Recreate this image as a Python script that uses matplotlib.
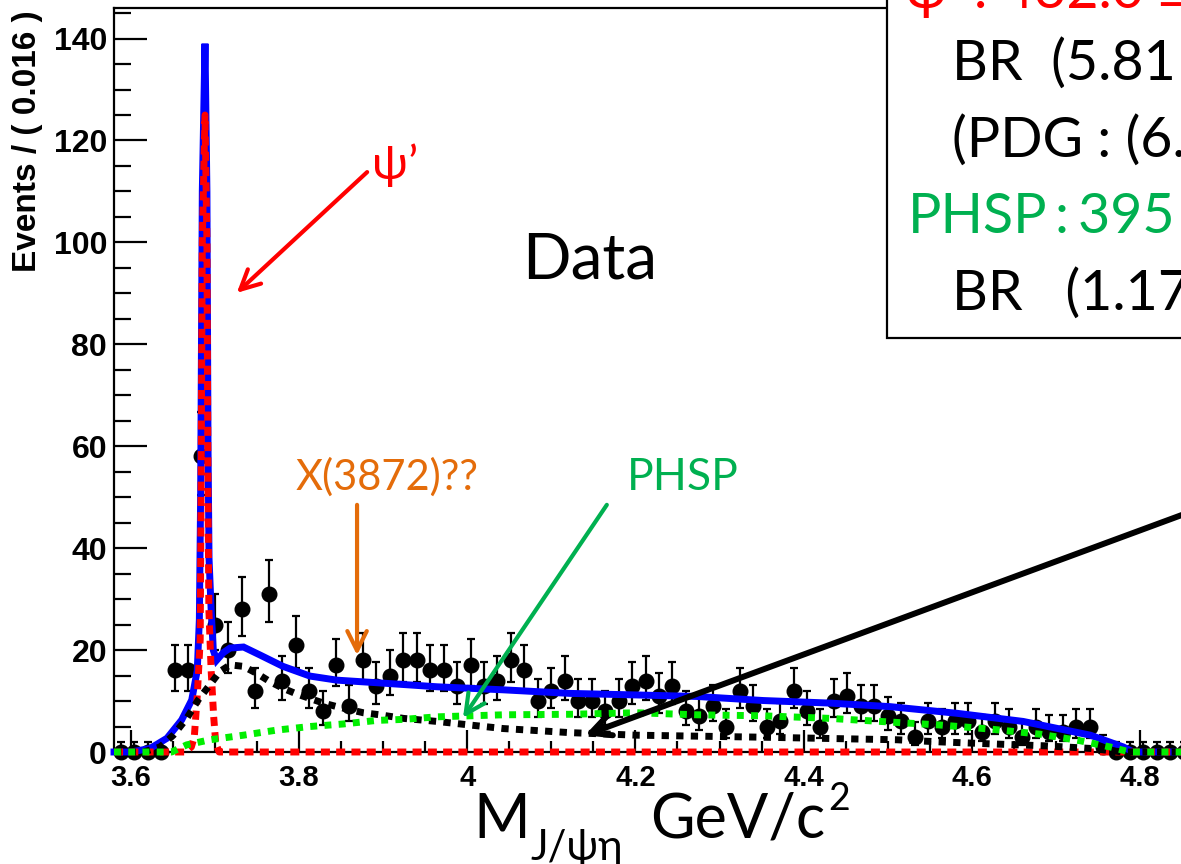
import matplotlib
matplotlib.use("Agg")
import matplotlib.pyplot as plt
from matplotlib.patches import Rectangle
from matplotlib.ticker import MultipleLocator
import numpy as np

plt.rcParams['font.family'] = ['Liberation Sans', 'DejaVu Sans']

# J/psi eta invariant mass, 0.016 GeV/c^2 bins starting at 3.58
mass_lo = 3.58
bin_width = 0.016
events = [0, 0, 0, 0, 16, 16, 58, 25, 20, 28, 12, 31, 14, 21, 12, 8, 17, 9, 18, 13,
          15, 18, 18, 16, 16, 13, 17, 13, 14, 18, 16, 10, 12, 14, 10, 10, 8, 10, 13, 14,
          11, 13, 8, 7, 9, 5, 12, 9, 5, 6, 12, 8, 5, 10, 11, 9, 9, 7, 6, 3,
          6, 5, 6, 6, 4, 6, 5, 3, 5, 4, 4, 5, 5, 1, 0, 0, 0, 0, 0, 0, 0, 0, 0]

# fit projections (total, psi', background, phase space)
total_x = [3.580, 3.600, 3.623, 3.643, 3.6605, 3.6724, 3.679, 3.6815, 3.6830, 3.6850,
           3.6882, 3.6905, 3.6918, 3.6930, 3.6955, 3.698, 3.702, 3.710, 3.718, 3.734,
           3.754, 3.781, 3.813, 3.845, 3.892, 3.964, 4.043, 4.122, 4.200, 4.273,
           4.352, 4.431, 4.503, 4.582, 4.661, 4.741, 4.780, 4.792, 4.930]
total_y = [0, 0, 0.7, 2.7, 6.3, 10.2, 16, 26, 50, 110,
           139, 110, 60, 38, 28, 20, 18, 19.5, 20.4, 20.6,
           19, 16.8, 14.9, 14.1, 13.6, 12.8, 12.2, 11.5, 11.2, 10.9,
           10.1, 9.6, 8.9, 7.6, 6.0, 3.3, 1.0, 0, 0]

psi2s_x = [3.580, 3.665, 3.672, 3.6755, 3.679, 3.6825, 3.6835, 3.6850, 3.6882, 3.6905,
           3.6918, 3.6928, 3.6955, 3.6985, 3.701, 3.705, 4.930]
psi2s_y = [0, 0, 1, 3, 11, 22, 50, 100, 125, 100,
           50, 28, 16, 7, 1.7, 0, 0]

bkg_x = [3.580, 3.615, 3.635, 3.6505, 3.6665, 3.680, 3.694, 3.706, 3.718, 3.734,
         3.750, 3.7655, 3.781, 3.797, 3.813, 3.829, 3.845, 3.8765, 3.896, 3.924,
         3.964, 4.003, 4.043, 4.083, 4.122, 4.2015, 4.352, 4.511, 4.560, 4.622,
         4.689, 4.741, 4.780, 4.930]
bkg_y = [0, 0, 1, 3.3, 6.6, 10.2, 13.2, 15.8, 17.1, 16.8,
         15.4, 13.8, 12.5, 11.4, 10.5, 9.6, 8.9, 7.7, 7.3, 6.6,
         6.0, 5.3, 4.6, 4.2, 3.8, 3.3, 2.9, 2.4, 2.0, 1.6,
         1.2, 0.7, 0, 0]

phsp_x = [3.580, 3.6486, 3.6665, 3.694, 3.734, 3.7735, 3.813, 3.8527, 3.8924, 3.924,
          3.964, 4.003, 4.043, 4.122, 4.2015, 4.273, 4.352, 4.431, 4.511, 4.562,
          4.622, 4.681, 4.729, 4.764, 4.788, 4.930]
phsp_y = [0, 0, 1.4, 2.4, 3.3, 4.3, 5.0, 5.5, 6.2, 6.4,
          6.9, 7.1, 7.3, 7.4, 7.7, 7.3, 7.1, 6.6, 5.8, 5.3,
          4.5, 3.5, 2.2, 1.0, 0, 0]

tick_vals = [3.6, 3.8, 4.0, 4.2, 4.4, 4.6, 4.8]
tick_labels = ["3.6", "3.8", "4", "4.2", "4.4", "4.6", "4.8"]

W, H = 1181, 864
x_hi = 4.93
y_hi = 146
fig = plt.figure(figsize=(W / 100, H / 100), dpi=100)
ax = fig.add_axes([114 / W, 112 / H, (x_hi - mass_lo) * 841 / W, 744 / H])
ax.set_xlim(mass_lo, x_hi)
ax.set_ylim(0, y_hi)

# data with poisson-like asymmetric errors
n = np.array(events, dtype=float)
centers = mass_lo + bin_width * (np.arange(len(n)) + 0.5)
err_hi = np.sqrt(n + 0.75) + 1
err_lo = np.where(n > 0, np.sqrt(np.clip(n - 0.25, 0, None)), 0)
eb = ax.errorbar(centers, n, yerr=[err_lo, err_hi], fmt='o', color='black', ms=10.5,
                 elinewidth=1.6, capsize=3, capthick=1.6, zorder=3)
data_line, caplines, barcols = eb.lines
for art in [data_line, *caplines, *barcols]:
    art.set_clip_on(False)

lw = 5.0
ax.plot(total_x, total_y, color='#0000ff', lw=5.0, zorder=4, clip_on=False,
        solid_joinstyle='miter')
ax.plot(psi2s_x, psi2s_y, color='#ff0000', lw=lw, ls=(0, (1.3, 0.9)), zorder=5, clip_on=False)
ax.plot(bkg_x, bkg_y, color='black', lw=lw, ls=(0, (1.05, 1.05)), zorder=6, clip_on=False)
ax.plot(phsp_x, phsp_y, color='#00ee00', lw=lw, ls=(0, (1.0, 1.05)), zorder=7, clip_on=False)

# axis styling
ax.set_xticks(tick_vals)
ax.set_xticklabels(tick_labels)
ax.xaxis.set_minor_locator(MultipleLocator(0.05))
ax.yaxis.set_major_locator(MultipleLocator(20))
ax.yaxis.set_minor_locator(MultipleLocator(5))
ax.tick_params(which='both', direction='in', width=1.6, top=False, right=False)
ax.tick_params(axis='x', which='major', length=16, pad=9)
ax.tick_params(axis='x', which='minor', length=8)
ax.tick_params(axis='y', which='major', length=24, pad=5)
ax.tick_params(axis='y', which='minor', length=12)
for lab in ax.get_xticklabels():
    lab.set_fontsize(21)
    lab.set_fontweight('bold')
for lab in ax.get_yticklabels():
    lab.set_fontsize(23)
    lab.set_fontweight('bold')
for sp in ax.spines.values():
    sp.set_linewidth(1.6)

fig.text(28 / W, 1 - 10 / H, "Events / ( 0.016 )", rotation=90, ha='center', va='top',
         fontsize=24, fontweight='bold')

slide = ['Lato', 'DejaVu Sans']

# x axis title
fig.text(473 / W, 1 - 838 / H, "M", fontsize=44, family=slide, va='baseline')
fig.text(530 / W, 1 - 860 / H, "J/ψη", fontsize=30, family=slide, va='baseline')
fig.text(650 / W, 1 - 838 / H, "GeV/c", fontsize=44, family=slide, va='baseline')
fig.text(828 / W, 1 - 810 / H, "2", fontsize=27, family=slide, va='baseline')

ax.text(4.065, 93.0, "Data", fontsize=46, family=slide, va='baseline', ha='left')

# annotations with arrows
ax.annotate("", xy=(3.726, 90.1), xytext=(3.881, 113.8),
            arrowprops=dict(arrowstyle="->,head_length=0.7,head_width=0.35", color='#ff0000',
                            lw=3, shrinkA=0, shrinkB=0, mutation_scale=20), zorder=8)
ax.text(3.914, 115.2, "ψ’", color='#ff0000', fontsize=34, family=slide, ha='center', va='center')

ax.annotate("", xy=(3.869, 19.0), xytext=(3.869, 48.5),
            arrowprops=dict(arrowstyle="->,head_length=0.7,head_width=0.35", color='#e46c0a',
                            lw=3, shrinkA=0, shrinkB=0, mutation_scale=20), zorder=8)
ax.text(3.905, 51.4, "X(3872)??", color='#e46c0a', fontsize=30, family=slide,
        ha='center', va='baseline')

ax.annotate("", xy=(3.995, 6.7), xytext=(4.166, 48.5),
            arrowprops=dict(arrowstyle="->,head_length=0.7,head_width=0.35", color='#00b050',
                            lw=3, shrinkA=0, shrinkB=0, mutation_scale=20), zorder=8)
ax.text(4.256, 51.4, "PHSP", color='#00b050', fontsize=32, family=slide,
        ha='center', va='baseline')

ax.annotate("", xy=(4.140, 3.3), xytext=(4.93, 51.4),
            arrowprops=dict(arrowstyle="->,head_length=0.7,head_width=0.35", color='black',
                            lw=4.3, shrinkA=0, shrinkB=0, mutation_scale=20),
            zorder=8, annotation_clip=False)

# fit result box
fig.patches.append(Rectangle((887 / W, 1 - 338 / H), 0.5, 0.5, transform=fig.transFigure,
                             facecolor='white', edgecolor='black', lw=1.6, zorder=10))
box_lines = [("ψ’ : 432.0 ±", '#ff0000', 905, 8),
             ("BR  (5.81", 'black', 952, 80),
             ("(PDG : (6.", 'black', 952, 157),
             ("PHSP", '#00b050', 908, 233),
             (":", '#00b050', 1055, 233),
             ("395 ±", '#00b050', 1078, 233),
             ("BR   (1.17", 'black', 952, 310)]
for txt, col, xp, yp in box_lines:
    fig.text(xp / W, 1 - yp / H, txt, color=col, fontsize=40, family=slide,
             va='baseline', ha='left', zorder=11)

fig.savefig("out.png", dpi=100)
